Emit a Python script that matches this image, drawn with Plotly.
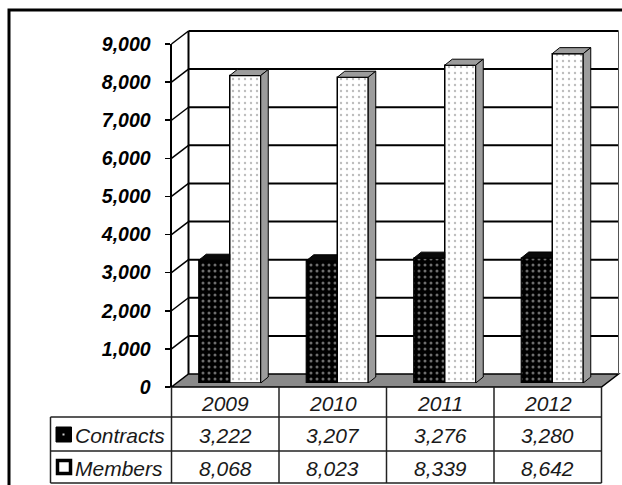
import plotly.graph_objects as go

# ---------------- data ----------------
years = ["2009", "2010", "2011", "2012"]
contracts = [3222, 3207, 3276, 3280]
members = [8068, 8023, 8339, 8642]
series_names = ["Contracts", "Members"]
y_ticks = [0, 1000, 2000, 3000, 4000, 5000, 6000, 7000, 8000, 9000]

# ---------------- geometry (pixels) ----------------
W, H = 622, 485
X_L, X_R = 171.5, 601.5          # front plane of the category axis
Y_0, Y_TOP = 387.0, 44.0          # front plane: value 0 and value 9000
DX, DY = 17, 13                   # depth of the 3-D box
BX, BY = 4.5, 4.0                 # bars sit slightly behind the front plane
SIDE_X, SIDE_Y = 7.5, 6           # depth of each bar
YMAX = 9000
n = len(years)
idx = list(range(n))


def fx(px):
    return px / W


def fy(py):
    return 1 - py / H


def vy(v):
    return Y_0 - v * (Y_0 - Y_TOP) / YMAX


fig = go.Figure()

bar_w = 31 / ((X_R - X_L) / n)
fig.add_trace(go.Bar(
    x=idx, y=contracts, name=series_names[0], xaxis="x2", yaxis="y2",
    width=bar_w, offset=-bar_w,
    marker=dict(color="black", line=dict(color="black", width=1.2),
                pattern=dict(shape=".", fgcolor="#6e6e6e", bgcolor="black",
                             size=6, solidity=0.2, fillmode="replace")),
    showlegend=False, hoverinfo="skip"))
fig.add_trace(go.Bar(
    x=idx, y=members, name=series_names[1], xaxis="x2", yaxis="y2",
    width=bar_w, offset=0,
    marker=dict(color="white", line=dict(color="black", width=1.5),
                pattern=dict(shape=".", fgcolor="#bdbdbd", bgcolor="white",
                             size=6, solidity=0.12, fillmode="replace")),
    showlegend=False, hoverinfo="skip"))

shapes = []
LW = 2

# outer frame
shapes.append(dict(type="rect", xref="paper", yref="paper",
                   x0=fx(9), x1=fx(700), y0=fy(10), y1=fy(560),
                   line=dict(color="black", width=3), layer="below"))

# floor
floor = (f"M {fx(X_L)},{fy(Y_0)} L {fx(X_R)},{fy(Y_0)} "
         f"L {fx(X_R + DX)},{fy(Y_0 - DY)} L {fx(X_L + DX)},{fy(Y_0 - DY)} Z")
shapes.append(dict(type="path", xref="paper", yref="paper", path=floor,
                   fillcolor="#8a8a8a", line=dict(color="black", width=1.5),
                   layer="below"))

# back wall gridlines and left wall diagonals
for v in y_ticks:
    yb = vy(v) - DY
    if v > 0:
        shapes.append(dict(type="line", xref="paper", yref="paper",
                           x0=fx(X_L + DX), x1=fx(X_R + DX), y0=fy(yb), y1=fy(yb),
                           line=dict(color="black", width=LW), layer="below"))
        shapes.append(dict(type="line", xref="paper", yref="paper",
                           x0=fx(X_L), x1=fx(X_L + DX), y0=fy(vy(v)), y1=fy(yb),
                           line=dict(color="black", width=1.5), layer="below"))
# back wall edges
shapes.append(dict(type="line", xref="paper", yref="paper",
                   x0=fx(X_L + DX), x1=fx(X_L + DX), y0=fy(Y_0 - DY), y1=fy(Y_TOP - DY),
                   line=dict(color="black", width=LW), layer="below"))
shapes.append(dict(type="line", xref="paper", yref="paper",
                   x0=fx(X_R + DX), x1=fx(X_R + DX), y0=fy(Y_0 - DY), y1=fy(Y_TOP - DY),
                   line=dict(color="#555", width=1), layer="below"))

# 3-D faces of the bars (in bar-plane data units)
ux = 1 / ((X_R - X_L) / n)                 # category units per pixel
uy = YMAX / (Y_0 - Y_TOP)                  # value units per pixel
sx, sy = SIDE_X * ux, SIDE_Y * uy
for i in idx:
    x0, x1, t = i - bar_w, i, contracts[i]
    shapes.append(dict(type="path", xref="x2", yref="y2", layer="above",
                       path=f"M {x0},{t} L {x1},{t} L {x1},{t + sy} L {x0 + sx},{t + sy} Z",
                       fillcolor="#0a0a0a", line=dict(color="black", width=1)))
    x0, x1, t = i, i + bar_w, members[i]
    shapes.append(dict(type="path", xref="x2", yref="y2", layer="above",
                       path=f"M {x0},{t} L {x1},{t} L {x1 + sx},{t + sy} L {x0 + sx},{t + sy} Z",
                       fillcolor="#9c9c9c", line=dict(color="black", width=1)))
    shapes.append(dict(type="path", xref="x2", yref="y2", layer="above",
                       path=f"M {x1},0 L {x1},{t} L {x1 + sx},{t + sy} L {x1 + sx},{sy} Z",
                       fillcolor="#9c9c9c", line=dict(color="black", width=1)))

# data table grid
T_LEFT = 50.5
ROW_Y = [Y_0, 417, 451, 483]
for k in range(n + 1):
    xk = X_L + k * (X_R - X_L) / n
    shapes.append(dict(type="line", xref="paper", yref="paper",
                       x0=fx(xk), x1=fx(xk), y0=fy(Y_0), y1=fy(ROW_Y[-1]),
                       line=dict(color="#222", width=1.5)))
shapes.append(dict(type="line", xref="paper", yref="paper",
                   x0=fx(T_LEFT), x1=fx(T_LEFT), y0=fy(ROW_Y[1]), y1=fy(ROW_Y[-1]),
                   line=dict(color="#222", width=1.5)))
for yy in ROW_Y[1:]:
    shapes.append(dict(type="line", xref="paper", yref="paper",
                       x0=fx(T_LEFT), x1=fx(X_R), y0=fy(yy), y1=fy(yy),
                       line=dict(color="#222", width=1.5)))

# legend keys inside the table
shapes.append(dict(type="rect", xref="paper", yref="paper",
                   x0=fx(56), x1=fx(71.5), y0=fy(427), y1=fy(442),
                   fillcolor="black", line=dict(color="black", width=1)))
shapes.append(dict(type="rect", xref="paper", yref="paper",
                   x0=fx(62.5), x1=fx(64.5), y0=fy(433.5), y1=fy(435.5),
                   fillcolor="#cccccc", line=dict(width=0)))
shapes.append(dict(type="rect", xref="paper", yref="paper",
                   x0=fx(57.5), x1=fx(70.5), y0=fy(460.5), y1=fy(473.5),
                   fillcolor="white", line=dict(color="black", width=3.5)))

annotations = []
tfont = dict(family="Liberation Sans, Arial", size=21, color="#1a1a1a", style="italic")
row_centers = [(ROW_Y[r] + ROW_Y[r + 1]) / 2 for r in range(3)]
for i, yr in enumerate(years):
    annotations.append(dict(x=i, xref="x", y=fy(row_centers[0] + 1), yref="paper",
                            text=yr, showarrow=False, font=tfont,
                            xanchor="center", yanchor="middle"))
    annotations.append(dict(x=i, xref="x", y=fy(row_centers[1] + 1), yref="paper",
                            text=f"{contracts[i]:,}", showarrow=False, font=tfont,
                            xanchor="center", yanchor="middle"))
    annotations.append(dict(x=i, xref="x", y=fy(row_centers[2] + 1), yref="paper",
                            text=f"{members[i]:,}", showarrow=False, font=tfont,
                            xanchor="center", yanchor="middle"))
for r, name in enumerate(series_names):
    annotations.append(dict(x=fx(73), xref="paper", y=fy(row_centers[r + 1] + 1), yref="paper",
                            text=name, showarrow=False, font=tfont,
                            xanchor="left", yanchor="middle"))

fig.update_layout(
    template="none",
    autosize=False,
    width=W, height=H,
    margin=dict(l=0, r=0, t=0, b=0, pad=0, autoexpand=False),
    paper_bgcolor="white", plot_bgcolor="rgba(0,0,0,0)",
    xaxis=dict(domain=[fx(X_L), fx(X_R)], range=[-0.5, n - 0.5], visible=False,
               anchor="y", automargin=False),
    yaxis=dict(domain=[fy(Y_0), fy(Y_TOP)], range=[0, YMAX], anchor="x",
               automargin=False,
               tickvals=y_ticks, ticktext=[f"{v:,}" for v in y_ticks],
               ticks="outside", ticklen=5, tickwidth=1.5, tickcolor="black",
               showline=True, linecolor="black", linewidth=2,
               showgrid=False, zeroline=False, ticklabelstandoff=10,
               tickfont=dict(family="Liberation Sans, Arial", size=19.5, color="black",
                             weight="bold", style="italic")),
    xaxis2=dict(domain=[fx(X_L + BX), fx(X_R + BX)], range=[-0.5, n - 0.5],
                visible=False, anchor="y2", automargin=False),
    yaxis2=dict(domain=[fy(Y_0 - BY), fy(Y_TOP - BY)], range=[0, YMAX],
                visible=False, anchor="x2", automargin=False),
    shapes=shapes, annotations=annotations,
    barmode="overlay", showlegend=False,
)

fig.write_html("out.html", config={"displayModeBar": False, "staticPlot": True},
               post_script="document.body.style.margin='0';document.body.style.overflow='hidden';")
